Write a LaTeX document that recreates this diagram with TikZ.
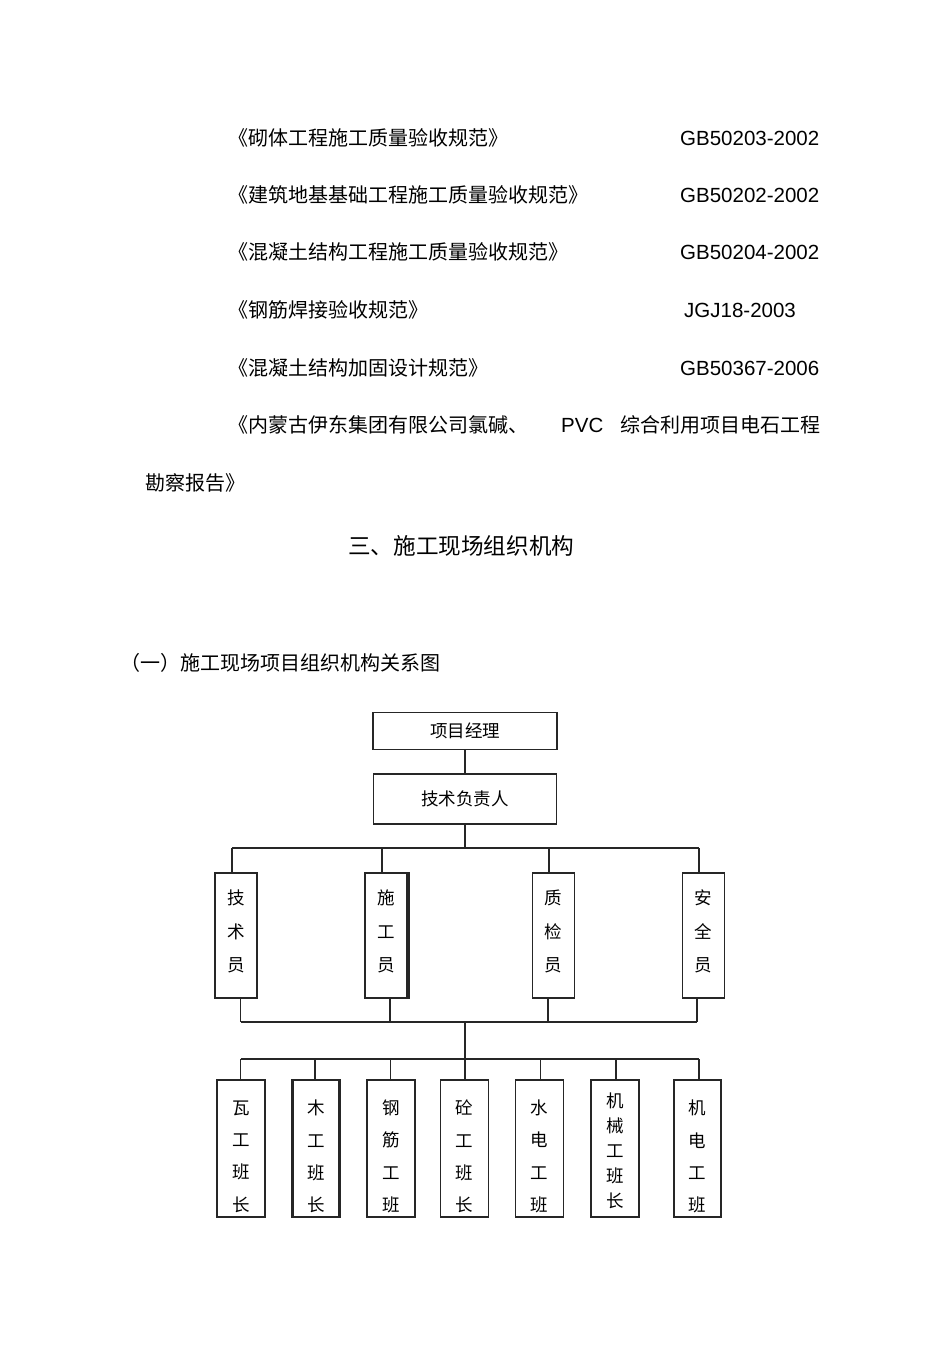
\documentclass[tikz,border=0pt]{standalone}
\usepackage{fontspec}
\setmainfont{Liberation Sans}
\newfontfamily\cjk{Noto Sans CJK SC}
\begin{document}
\begin{tikzpicture}[x=1pt,y=-1pt,
  body/.style={inner sep=0pt, anchor=west, font=\cjk\fontsize{20}{20}\selectfont},
  code/.style={inner sep=0pt, anchor=west, font=\fontsize{20.5}{20.5}\selectfont},
  box/.style={draw=black!85, line width=1.1pt, inner sep=0pt},
  hbox/.style={box, font=\cjk\fontsize{17.5}{17.5}\selectfont},
  vbox/.style={box, minimum width=42pt, minimum height=125pt},
  lbox/.style={box, minimum width=48pt, minimum height=137pt},
  vtext/.style={inner sep=0pt, align=center, font=\cjk\fontsize{17.5}{33.5}\selectfont},
  ltext/.style={inner sep=0pt, align=center, font=\cjk\fontsize{17.5}{32.3}\selectfont},
  ltext5/.style={inner sep=0pt, align=center, font=\cjk\fontsize{17.5}{25}\selectfont},
  conn/.style={draw=black!85, line width=1.1pt}]
\useasboundingbox (0,0) rectangle (950,1346);

% ---- text ----
\node[body] (t1) at (228,138) {《砌体工程施工质量验收规范》};
\node[code] (c1) at (680,138) {GB50203-2002};
\node[body] (t2) at (228,195) {《建筑地基基础工程施工质量验收规范》};
\node[code] (c2) at (680,195) {GB50202-2002};
\node[body] (t3) at (228,252) {《混凝土结构工程施工质量验收规范》};
\node[code] (c3) at (680,252) {GB50204-2002};
\node[body] (t4) at (228,310) {《钢筋焊接验收规范》};
\node[code] (c4) at (684,310) {JGJ18-2003};
\node[body] (t5) at (228,368) {《混凝土结构加固设计规范》};
\node[code] (c5) at (680,368) {GB50367-2006};
\node[body] (t6a) at (228,425) {《内蒙古伊东集团有限公司氯碱、};
\node[code] (t6b) at (561,425) {PVC};
\node[body, anchor=east] (t6c) at (821,425) {综合利用项目电石工程};
\node[body] (t7) at (145,483) {勘察报告》};
\node[inner sep=0pt, anchor=west, font=\cjk\fontsize{22.6}{22.6}\selectfont] (h1) at (348,546) {三、施工现场组织机构};
\node[body] (h2) at (120,663) {（一）施工现场项目组织机构关系图};

% ---- chart ----
\node[hbox, minimum width=184pt, minimum height=37pt] (pm) at (465,731) {项目经理};
\node[hbox, minimum width=183pt, minimum height=50pt] (tl) at (465,799) {技术负责人};

\node[vbox] (s1) at (236,935.5) {};
\node[vbox] (s2) at (386,935.5) {};
\node[vbox] (s3) at (553.5,935.5) {};
\node[vbox] (s4) at (703.5,935.5) {};
\node[vtext] (s1t) at ([yshift=4pt]s1.center) {技\\术\\员};
\node[vtext] (s2t) at ([yshift=4pt]s2.center) {施\\工\\员};
\node[vtext] (s3t) at ([yshift=4pt]s3.center) {质\\检\\员};
\node[vtext] (s4t) at ([yshift=4pt]s4.center) {安\\全\\员};
\draw[line width=1.2pt, black!85] ([xshift=1.5pt]s2.north east) -- ([xshift=1.5pt]s2.south east);

\node[lbox] (w1) at (241,1148.5) {};
\node[lbox] (w2) at (316,1148.5) {};
\node[lbox] (w3) at (391,1148.5) {};
\node[lbox] (w4) at (464.5,1148.5) {};
\node[lbox] (w5) at (539.5,1148.5) {};
\node[lbox] (w6) at (615,1148.5) {};
\node[lbox] (w7) at (697.5,1148.5) {};
\draw[line width=1.2pt, black!85] ([xshift=1.5pt]w2.north west) -- ([xshift=1.5pt]w2.south west);
\draw[line width=1.2pt, black!85] ([xshift=-1.5pt]w2.north east) -- ([xshift=-1.5pt]w2.south east);
\draw[line width=1.2pt, black!85] ([xshift=1.5pt]w7.north west) -- ([xshift=1.5pt]w7.south west);
\draw[line width=1.2pt, black!85] ([xshift=-1.5pt]w7.north east) -- ([xshift=-1.5pt]w7.south east);
\node[ltext] (w1t) at ([yshift=-8pt]w1.center) {瓦\\工\\班\\长};
\node[ltext] (w2t) at ([yshift=-8pt]w2.center) {木\\工\\班\\长};
\node[ltext] (w3t) at ([yshift=-8pt]w3.center) {钢\\筋\\工\\班};
\node[ltext] (w4t) at ([yshift=-8pt]w4.center) {砼\\工\\班\\长};
\node[ltext] (w5t) at ([yshift=-8pt]w5.center) {水\\电\\工\\班};
\node[ltext5] (w6t) at ([yshift=-2.5pt]w6.center) {机\\械\\工\\班\\长};
\node[ltext] (w7t) at ([yshift=-8pt]w7.center) {机\\电\\工\\班};

% ---- connectors ----
\coordinate (u1) at (232,848);
\coordinate (u2) at (382,848);
\coordinate (u3) at (549,848);
\coordinate (u4) at (699,848);
\coordinate (v1) at (240.5,1022);
\coordinate (v2) at (390,1022);
\coordinate (v3) at (548,1022);
\coordinate (v4) at (697,1022);
\coordinate (vc) at (465,1022);
\coordinate (m1) at (240.5,1059);
\coordinate (m2) at (315,1059);
\coordinate (m3) at (390.5,1059);
\coordinate (m4) at (465,1059);
\coordinate (m5) at (540.5,1059);
\coordinate (m6) at (616,1059);
\coordinate (m7) at (699,1059);

\draw[conn] (pm.south) -- (tl.north);
\draw[conn] (tl.south) -- (tl.south |- u1);
\draw[conn] (u1) -- (u4);
\draw[conn] (u1) -- (u1 |- s1.north);
\draw[conn] (u2) -- (u2 |- s2.north);
\draw[conn] (u3) -- (u3 |- s3.north);
\draw[conn] (u4) -- (u4 |- s4.north);
\draw[conn] (v1 |- s1.south) -- (v1);
\draw[conn] (v2 |- s2.south) -- (v2);
\draw[conn] (v3 |- s3.south) -- (v3);
\draw[conn] (v4 |- s4.south) -- (v4);
\draw[conn] (v1) -- (v4);
\draw[conn] (vc) -- (m4);
\draw[conn] (m1) -- (m7);
\draw[conn] (m1) -- (m1 |- w1.north);
\draw[conn] (m2) -- (m2 |- w2.north);
\draw[conn] (m3) -- (m3 |- w3.north);
\draw[conn] (m4) -- (m4 |- w4.north);
\draw[conn] (m5) -- (m5 |- w5.north);
\draw[conn] (m6) -- (m6 |- w6.north);
\draw[conn] (m7) -- (m7 |- w7.north);
\end{tikzpicture}
\end{document}
